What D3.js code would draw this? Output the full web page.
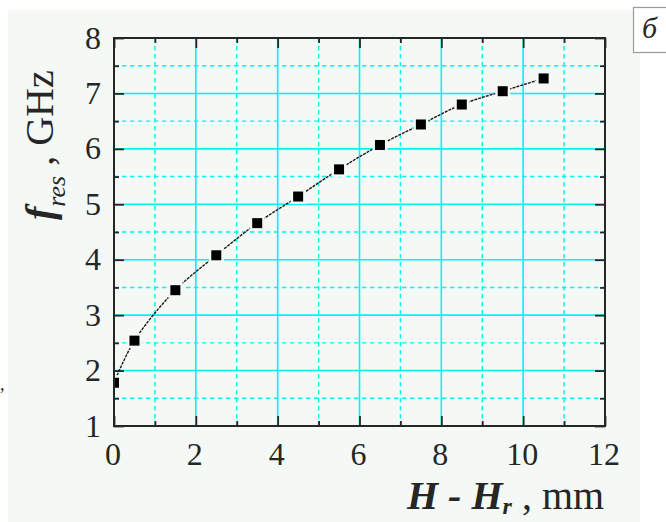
<!DOCTYPE html>
<html>
<head>
<meta charset="utf-8">
<script src="https://cdn.jsdelivr.net/npm/d3@7"></script>
<style>
  html, body { margin: 0; padding: 0; background: #fff; }
  svg { display: block; }
  svg text { font-family: "Liberation Serif", "Times New Roman", Times, "DejaVu Serif", serif; }
</style>
</head>
<body>
<svg id="chart" width="666" height="522"></svg>
<script>
// measured points: H - H_r (mm) vs resonance frequency (GHz)
const gapValues = [0, 0.5, 1.5, 2.5, 3.5, 4.5, 5.5, 6.5, 7.5, 8.5, 9.5, 10.5];
const freqValues = [1.78, 2.54, 3.45, 4.08, 4.66, 5.14, 5.63, 6.07, 6.44, 6.80, 7.04, 7.27];
const xMajorTicks = [0, 2, 4, 6, 8, 10, 12];
const xMinorTicks = [1, 3, 5, 7, 9, 11];
const yMajorTicks = [1, 2, 3, 4, 5, 6, 7, 8];
const yMinorTicks = [1.5, 2.5, 3.5, 4.5, 5.5, 6.5, 7.5];
const panelLabel = "б";

const points = gapValues.map((g, i) => ({ x: g, y: freqValues[i] }));

const svg = d3.select("#chart");
const pLeft = 114, pRight = 605, pTop = 38, pBottom = 426;
const bg = "#f5f9f6", ink = "#262626", cyan = "#00f4f4";
const serif = "'Liberation Serif', 'Times New Roman', Times, serif";

const x = d3.scaleLinear().domain([0, 12]).range([pLeft, pRight]);
const y = d3.scaleLinear().domain([1, 8]).range([pBottom, pTop]);

// panel background
svg.append("rect").attr("x", 8).attr("y", 10).attr("width", 632).attr("height", 512).attr("fill", bg);

// stray mark from the neighbouring figure
svg.append("text").attr("x", 0).attr("y", 390).attr("font-family", serif).attr("font-size", 18).attr("fill", ink).text(",");

// grid
const grid = svg.append("g");
grid.selectAll(".vmaj").data(xMajorTicks.slice(1, -1)).join("line")
  .attr("x1", d => x(d)).attr("x2", d => x(d)).attr("y1", pTop).attr("y2", pBottom)
  .attr("stroke", cyan).attr("stroke-width", 1.6);
grid.selectAll(".hmaj").data(yMajorTicks.slice(1, -1)).join("line")
  .attr("y1", d => y(d)).attr("y2", d => y(d)).attr("x1", pLeft).attr("x2", pRight)
  .attr("stroke", cyan).attr("stroke-width", 1.6);
grid.selectAll(".vmin").data(xMinorTicks).join("line")
  .attr("x1", d => x(d)).attr("x2", d => x(d)).attr("y1", pTop).attr("y2", pBottom)
  .attr("stroke", cyan).attr("stroke-width", 1.4).attr("stroke-dasharray", "4.5,3.5");
grid.selectAll(".hmin").data(yMinorTicks).join("line")
  .attr("y1", d => y(d)).attr("y2", d => y(d)).attr("x1", pLeft).attr("x2", pRight)
  .attr("stroke", cyan).attr("stroke-width", 1.4).attr("stroke-dasharray", "4.5,3.5");

// ticks on all four sides, pointing inward
function ticks(axisFn, scale, vals, size, pos, isX) {
  const g = svg.append("g")
    .attr("transform", isX ? `translate(0,${pos})` : `translate(${pos},0)`)
    .call(axisFn(scale).tickValues(vals).tickSize(size).tickFormat(""));
  g.select(".domain").remove();
  g.selectAll("line").attr("stroke", ink).attr("stroke-width", 1.8);
  return g;
}
ticks(d3.axisBottom, x, xMajorTicks, -10, pBottom, true);
ticks(d3.axisBottom, x, xMinorTicks, -5, pBottom, true);
ticks(d3.axisTop, x, xMajorTicks, -10, pTop, true);
ticks(d3.axisTop, x, xMinorTicks, -5, pTop, true);
ticks(d3.axisLeft, y, yMajorTicks, -10, pLeft, false);
ticks(d3.axisLeft, y, yMinorTicks, -5, pLeft, false);
ticks(d3.axisRight, y, yMajorTicks, -10, pRight, false);
ticks(d3.axisRight, y, yMinorTicks, -5, pRight, false);

// curve + markers, clipped to the frame
svg.append("clipPath").attr("id", "plot-clip")
  .append("rect").attr("x", pLeft).attr("y", pTop).attr("width", pRight - pLeft).attr("height", pBottom - pTop);
const plot = svg.append("g").attr("clip-path", "url(#plot-clip)");

const line = d3.line().x(d => x(d.x)).y(d => y(d.y)).curve(d3.curveCatmullRom);
plot.append("path").datum(points).attr("d", line)
  .attr("fill", "none").attr("stroke", "#1a1a1a").attr("stroke-width", 1.4).attr("stroke-dasharray", "3,1");

const ms = 10;
plot.selectAll(".pt").data(points).join("rect")
  .attr("x", d => x(d.x) - ms / 2).attr("y", d => y(d.y) - ms / 2)
  .attr("width", ms).attr("height", ms)
  .attr("fill", "#000").attr("stroke", bg).attr("stroke-width", 5).attr("paint-order", "stroke");

// frame
svg.append("rect").attr("x", pLeft).attr("y", pTop).attr("width", pRight - pLeft).attr("height", pBottom - pTop)
  .attr("fill", "none").attr("stroke", ink).attr("stroke-width", 2);

// tick labels
svg.append("g").selectAll("text").data(xMajorTicks).join("text")
  .attr("x", d => x(d) - 1).attr("y", 465).attr("text-anchor", "middle")
  .attr("font-family", serif).attr("font-size", 32).attr("fill", ink).text(d => d);
svg.append("g").selectAll("text").data(yMajorTicks).join("text")
  .attr("x", 101).attr("y", d => y(d) + 10.5).attr("text-anchor", "end")
  .attr("font-family", serif).attr("font-size", 32).attr("fill", ink).text(d => d);

// axis titles
const xt = svg.append("text").attr("x", 407).attr("y", 509).attr("font-family", serif).attr("font-size", 40).attr("fill", ink);
xt.append("tspan").attr("font-style", "italic").attr("font-weight", "bold").text("H - H");
xt.append("tspan").attr("font-style", "italic").attr("font-weight", "bold").attr("font-size", 24).attr("dy", 5).text("r");
xt.append("tspan").attr("dy", -5).text(" , mm");

const yt = svg.append("text").attr("transform", "translate(53,220) rotate(-90)").attr("font-family", serif).attr("font-size", 40).attr("fill", ink);
yt.append("tspan").attr("font-style", "italic").attr("font-weight", "bold").text("f");
yt.append("tspan").attr("font-style", "italic").attr("font-size", 26).attr("dy", 12).text("res");
yt.append("tspan").attr("dy", -12).text(" , GHz");

// panel letter box
svg.append("rect").attr("x", 633.5).attr("y", 7.5).attr("width", 40).attr("height", 45)
  .attr("fill", "#fff").attr("stroke", "#9a9a9a").attr("stroke-width", 1.2);
svg.append("text").attr("x", 642).attr("y", 38).attr("font-family", serif).attr("font-size", 30).attr("font-style", "italic")
  .attr("fill", ink).text(panelLabel);
</script>
</body>
</html>
